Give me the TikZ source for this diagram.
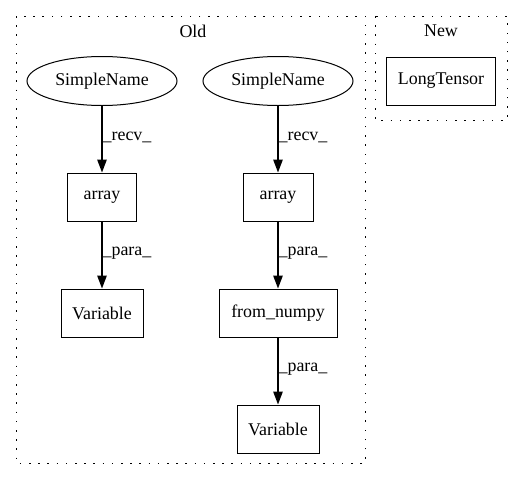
\documentclass[tikz,border=0pt]{standalone}
\usepackage{fontspec}
\setmainfont{Liberation Serif}
\usetikzlibrary{arrows.meta,positioning,shapes.geometric}
\tikzset{
  >={Triangle[length=13pt,width=9.5pt]},
  op/.style     ={draw,rectangle,line width=1pt,minimum height=48pt,
                  inner xsep=10pt,font=\fontsize{17.9}{20}\selectfont},
  leaf/.style   ={draw,ellipse,line width=1pt,minimum width=150pt,
                  minimum height=49pt,inner sep=0pt,font=\fontsize{17.9}{20}\selectfont},
  cluster/.style={draw,dash pattern=on 1.5pt off 7.7pt,line width=0.9pt},
  title/.style  ={font=\fontsize{17.9}{20}\selectfont},
  lbl/.style    ={font=\fontsize{17.9}{20}\selectfont,inner sep=0pt,anchor=west},
  flow/.style   ={->,line width=1.3pt},
}
\begin{document}
\begin{tikzpicture}[x=1pt,y=-1pt]
\useasboundingbox (0,0) rectangle (531,480);
% ---- clusters
\draw[cluster] (16,16) rectangle (365,463);
\node[title] (old) at (193,31) {Old};
\draw[cluster] (375,16) rectangle (507,120);
\node[title] (new) at (441,31) {New};

% ---- left chain
\node[leaf] (sn1) at (102,81) {SimpleName};
\node[op,minimum width=69pt] (arr1) at (102,197) {array};
\node[op,minimum width=82pt] (var1) at (102,313) {Variable};

% ---- right chain
\node[leaf] (sn2) at (278,81) {SimpleName};
\node[op,minimum width=70pt] (arr2) at (278,197) {array};
\node[op,minimum width=118pt] (fnp) at (278,313) {from\_numpy};
\node[op,minimum width=82pt] (var2) at (278,429) {Variable};

% ---- new
\node[op,minimum width=109pt] (lt) at (441,81) {LongTensor};

\foreach \a/\b/\l in {sn1/arr1/\_recv\_, arr1/var1/\_para\_,
                      sn2/arr2/\_recv\_, arr2/fnp/\_para\_, fnp/var2/\_para\_}
  \draw[flow] (\a) -- node[lbl,pos=0.48] {\l} (\b);
\end{tikzpicture}
\end{document}
